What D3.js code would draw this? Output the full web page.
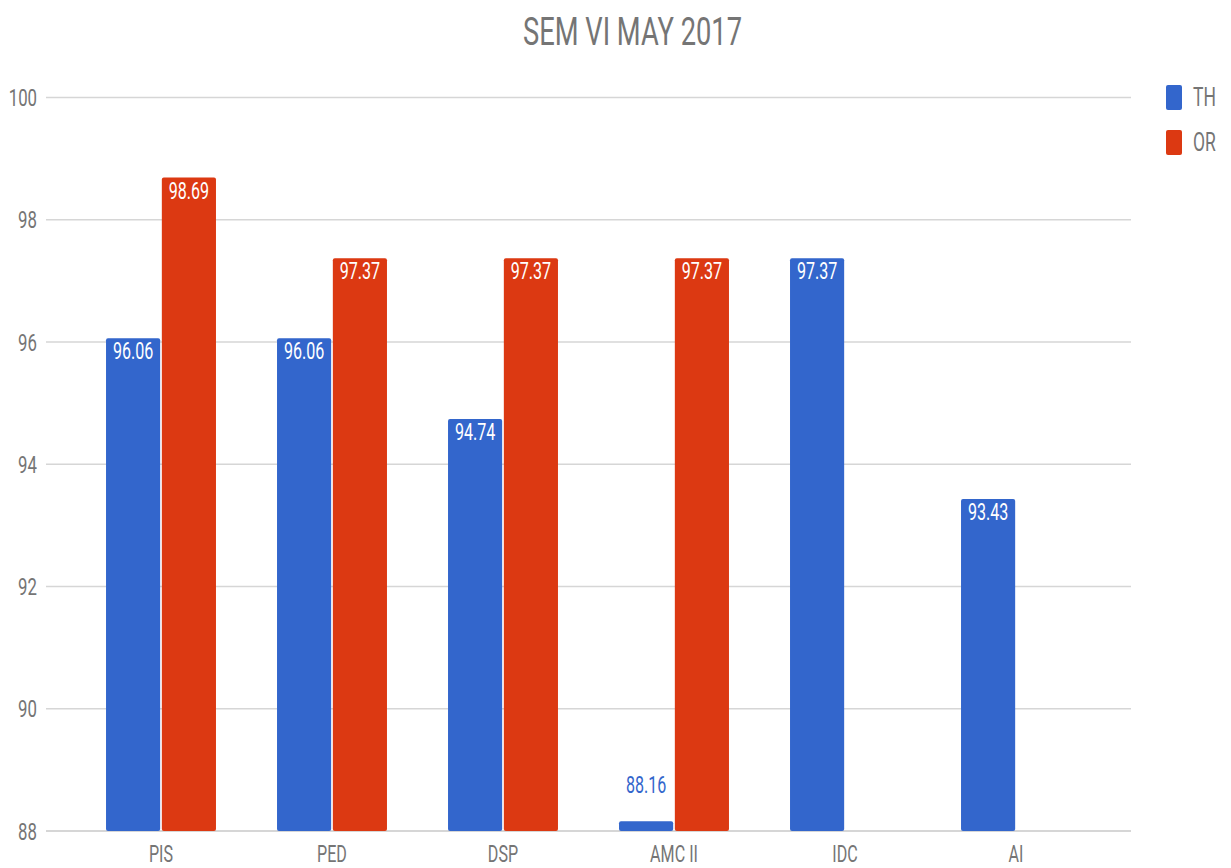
<!DOCTYPE html>
<html>
<head>
<meta charset="utf-8">
<script src="https://cdn.jsdelivr.net/npm/d3@7"></script>
<style>
  html, body { margin: 0; padding: 0; background: #ffffff; }
  svg { display: block; }
  text { font-family: Roboto, "Noto Sans", sans-serif; }
</style>
</head>
<body>
<svg id="chart" width="1231" height="868"></svg>
<script>
// ---- data ----
const categories = ["PIS", "PED", "DSP", "AMC II", "IDC", "AI"];
const seriesNames = ["TH", "OR"];
const thValues = [96.06, 96.06, 94.74, 88.16, 97.37, 93.43];
const orValues = [98.69, 97.37, 97.37, 97.37, null, null];
const yTicks = [88, 90, 92, 94, 96, 98, 100];
const colors = ["#3366cc", "#dc3912"];
const chartTitle = "SEM VI MAY 2017";

// ---- layout ----
const plotLeft = 46, plotRight = 1131, plotTop = 97.5, plotBottom = 831;
const SX = 0.7; // horizontal squeeze of the text

const svg = d3.select("#chart");
const seriesValues = [thValues, orValues];

const x0 = d3.scaleBand().domain(categories).range([plotLeft, plotRight])
  .paddingInner(0.357).paddingOuter(0.351);
const x1 = d3.scaleBand().domain(seriesNames).range([0, x0.bandwidth()]).paddingInner(0.03);
const y = d3.scaleLinear().domain([88, 100]).range([plotBottom, plotTop]);

function sText(g, x, yy, str, size, fill, anchor, weight) {
  return g.append("text")
    .attr("transform", `translate(${x},${yy}) scale(${SX},1)`)
    .attr("text-anchor", anchor || "start")
    .attr("font-size", size)
    .attr("font-weight", weight || 400)
    .attr("fill", fill)
    .text(str);
}

// title
sText(svg, 632.5, 44.5, chartTitle, 39, "#757575", "middle");

// gridlines + y tick labels
const grid = svg.append("g");
yTicks.forEach(t => {
  grid.append("line")
    .attr("x1", plotLeft).attr("x2", plotRight)
    .attr("y1", y(t)).attr("y2", y(t))
    .attr("stroke", t === 88 ? "#c8c8c8" : "#d6d6d6")
    .attr("stroke-width", 1.6);
  sText(grid, 37, y(t) + 8.5, String(t), 24, "#757575", "end");
});

// bars
const rows = categories.map((c, i) => ({
  cat: c,
  vals: seriesNames.map((s, j) => ({ s, j, v: seriesValues[j][i] }))
}));

const groups = svg.append("g").selectAll("g").data(rows).join("g")
  .attr("transform", d => `translate(${x0(d.cat)},0)`);

groups.each(function(d) {
  const g = d3.select(this);
  d.vals.forEach(b => {
    if (b.v == null) return;
    const bx = x1(b.s), bw = x1.bandwidth();
    const by = y(b.v);
    const h = plotBottom - by;
    g.append("rect")
      .attr("x", bx).attr("y", by)
      .attr("width", bw).attr("height", Math.max(0, h))
      .attr("rx", 2)
      .attr("fill", colors[b.j]);
    if (h > 26) {
      sText(g, bx + bw / 2, by + 21, b.v.toFixed(2), 23, "#ffffff", "middle");
    } else {
      sText(g, bx + bw / 2, by - 28, b.v.toFixed(2), 23, colors[b.j], "middle");
    }
  });
});

// x axis labels
categories.forEach(c => {
  sText(svg, x0(c) + x0.bandwidth() / 2, 862, c, 23, "#757575", "middle");
});

// legend
const lg = svg.append("g");
seriesNames.forEach((s, i) => {
  const ly = 85 + i * 45;
  lg.append("rect").attr("x", 1166).attr("y", ly)
    .attr("width", 16).attr("height", 25).attr("rx", 2)
    .attr("fill", colors[i]);
  sText(lg, 1193, ly + 20.5, s, 25, "#757575", "start");
});
</script>
</body>
</html>
